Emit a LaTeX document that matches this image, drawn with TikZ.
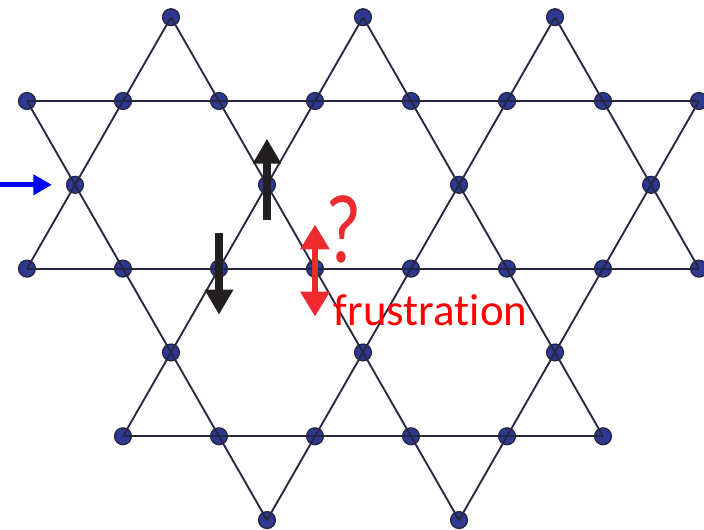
\documentclass[tikz,border=0pt]{standalone}
\usepackage{fontspec}
\setmainfont{Carlito}[Ligatures=NoCommon]
\usepackage{tikz}
\usetikzlibrary{positioning,arrows.meta}
\definecolor{cSite}{HTML}{2E3A92}
\definecolor{cBond}{HTML}{262642}
\definecolor{cSpin}{HTML}{231F20}
\definecolor{cFrust}{HTML}{EE2A2F}
\definecolor{cPin}{HTML}{0000FF}

\begin{document}
\begin{tikzpicture}[
    site/.style={circle,fill=cSite,draw=cBond,line width=0.4pt,minimum size=0.175cm,inner sep=0pt},
    bond/.style={draw=cBond,line width=0.55pt},
    spin/.style={draw=cSpin,line width=2.4pt,-{Triangle[length=7.4pt,width=8pt]}},
    frust/.style={draw=cFrust,line width=1.9pt,{Triangle[length=7.4pt,width=8.3pt]}-{Triangle[length=7.4pt,width=8.3pt]}},
    pin/.style={draw=cPin,line width=1.4pt,-{Triangle[length=5.5pt,width=5.8pt]}}
  ]
  \useasboundingbox (-0.281,-0.094) rectangle (7.052,5.417);
  \def\h{0.873}
  % lattice sites, row by row
  \foreach \i/\x in {1/1.5,2/3.5,3/5.5}
    \node[site] (t\i) at (\x,6*\h) {};
  \foreach \i in {0,...,7}
    \node[site] (a\i) at (\i,5*\h) {};
  \foreach \i/\x in {0/0.5,1/2.5,2/4.5,3/6.5}
    \node[site] (b\i) at (\x,4*\h) {};
  \foreach \i in {0,...,7}
    \node[site] (c\i) at (\i,3*\h) {};
  \foreach \i/\x in {1/1.5,2/3.5,3/5.5}
    \node[site] (d\i) at (\x,2*\h) {};
  \foreach \i in {1,...,6}
    \node[site] (e\i) at (\i,\h) {};
  \node[site] (f1) at (2.5,0) {};
  \node[site] (f2) at (4.5,0) {};

  % bonds: straight lines through the lattice
  \foreach \p/\q in {a0/a7,c0/c7,e1/e6,%
                     a0/f1,t1/f2,t2/e6,t3/c7,%
                     c0/t1,e1/t2,f1/t3,f2/a7}
    \draw[bond] (\p.center) -- (\q.center);

  % spins
  \draw[spin] ([yshift=-0.37cm]b1.center) -- ([yshift=0.48cm]b1.center);
  \draw[spin] ([yshift=0.37cm]c2.center) -- ([yshift=-0.48cm]c2.center);
  \draw[frust] ([yshift=0.46cm]c3.center) -- ([yshift=-0.5cm]c3.center);
  \coordinate (pinstart) at (-0.281,4*\h);
  \draw[pin,shorten >=0.145cm] (pinstart) -- (b0);

  \node[text=cFrust,font=\fontsize{29}{32}\selectfont,inner sep=0pt,xscale=0.8,transform shape] (qmark) at (3.3,3.03) {?};
  \node[text=red,font=\fontsize{13.3}{15}\selectfont,anchor=base west,inner sep=0pt] (label) at (3.19,2.03) {frustration};
\end{tikzpicture}
\end{document}
